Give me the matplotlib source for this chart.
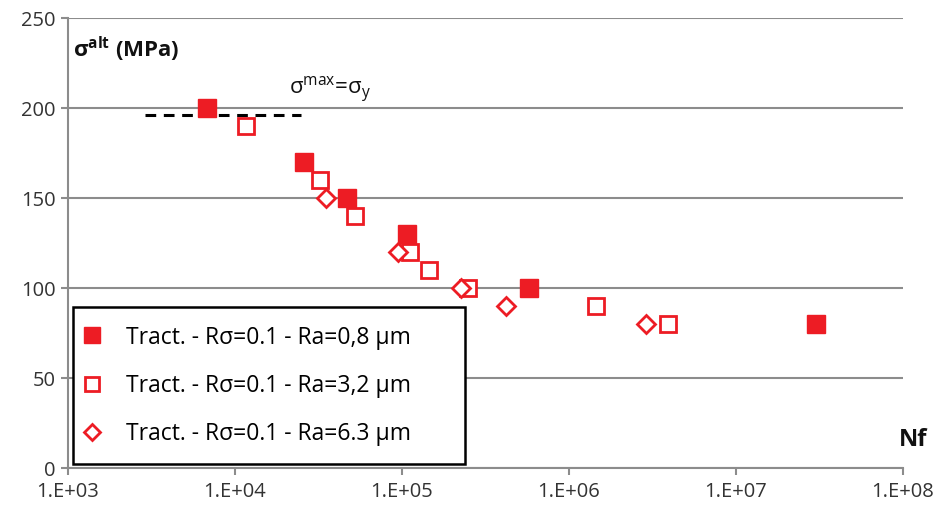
import matplotlib.pyplot as plt
from matplotlib.ticker import FixedLocator, NullLocator

# Ra = 0.8 um (filled squares)
nf_08 = [6.8e3, 2.6e4, 4.7e4, 1.07e5, 5.8e5, 3.0e7]
s_08 = [200, 170, 150, 130, 100, 80]

# Ra = 3.2 um (open squares)
nf_32 = [1.17e4, 3.25e4, 5.2e4, 1.12e5, 1.45e5, 2.5e5, 1.45e6, 3.9e6]
s_32 = [190, 160, 140, 120, 110, 100, 90, 80]

# Ra = 6.3 um (open diamonds)
nf_63 = [3.5e4, 9.5e4, 2.25e5, 4.2e5, 2.9e6]
s_63 = [150, 120, 100, 90, 80]

# sigma_max = sigma_y line
nf_lim = [2.9e3, 2.5e4]
s_lim = [196, 196]

x_ticks = [1e3, 1e4, 1e5, 1e6, 1e7, 1e8]
x_labels = ['1.E+03', '1.E+04', '1.E+05', '1.E+06', '1.E+07', '1.E+08']
y_ticks = [0, 50, 100, 150, 200, 250]

red = '#ed1c24'
grey = '#8c8c8c'
plt.rcParams['font.family'] = ['Open Sans', 'DejaVu Sans']
plt.rcParams['mathtext.fontset'] = 'custom'
plt.rcParams['mathtext.rm'] = 'Open Sans'
plt.rcParams['mathtext.bf'] = 'Open Sans:bold'

fig = plt.figure(figsize=(9.35, 5.13), dpi=100)
ax = fig.add_axes([0.0727, 0.0877, 0.893, 0.877])

ax.plot(nf_lim, s_lim, color='black', lw=2.2, ls=(0, (3.5, 2.5)), zorder=2)
ax.plot(nf_08, s_08, 's', color=red, ms=12.5, ls='none', zorder=3,
        label='Tract. - R\u03c3=0.1 - Ra=0,8 \u03bcm')
ax.plot(nf_32, s_32, 's', mfc='white', mec=red, mew=2, ms=11.5, ls='none', zorder=3,
        label='Tract. - R\u03c3=0.1 - Ra=3,2 \u03bcm')
ax.plot(nf_63, s_63, 'D', mfc='white', mec=red, mew=2, ms=9.5, ls='none', zorder=3,
        label='Tract. - R\u03c3=0.1 - Ra=6.3 \u03bcm')

ax.set_xscale('log')
ax.set_xlim(1e3, 1e8)
ax.set_ylim(0, 250)
ax.xaxis.set_major_locator(FixedLocator(x_ticks))
ax.xaxis.set_minor_locator(NullLocator())
ax.set_xticklabels(x_labels)
ax.set_yticks(y_ticks)
ax.tick_params(axis='both', labelsize=14.5, labelcolor='#333333', color=grey,
               length=5, width=1.5)
ax.tick_params(axis='x', pad=5)
ax.tick_params(axis='y', pad=4)
ax.grid(axis='y', color=grey, lw=1.5)
ax.set_axisbelow(True)
for s in ['top', 'right']:
    ax.spines[s].set_visible(False)
for s in ['left', 'bottom']:
    ax.spines[s].set_color(grey)
    ax.spines[s].set_linewidth(1.5)

ax.text(0.006, 0.93, '\u03c3$^{\\mathbf{alt}}$ (MPa)', transform=ax.transAxes,
        fontsize=16, fontweight='bold', color='#111111', va='center')
ax.text(0.265, 0.84, '\u03c3$^{\\mathrm{max}}$=\u03c3$_{\\mathrm{y}}$', transform=ax.transAxes,
        fontsize=16, color='#111111', va='center')
fig.text(0.977, 0.142, 'Nf', fontsize=17, fontweight='bold', color='#111111',
         ha='center', va='center')

leg = ax.legend(loc='lower left', bbox_to_anchor=(0.006, 0.009, 0.469, 0.3),
                mode='expand', fontsize=16.5, frameon=True, fancybox=False,
                edgecolor='black', labelspacing=1.05, handletextpad=1.45,
                borderpad=0.8, borderaxespad=0, handlelength=0.05,
                markerscale=0.9, framealpha=1)
leg.get_frame().set_linewidth(1.8)

fig.savefig('out.png', dpi=100)
